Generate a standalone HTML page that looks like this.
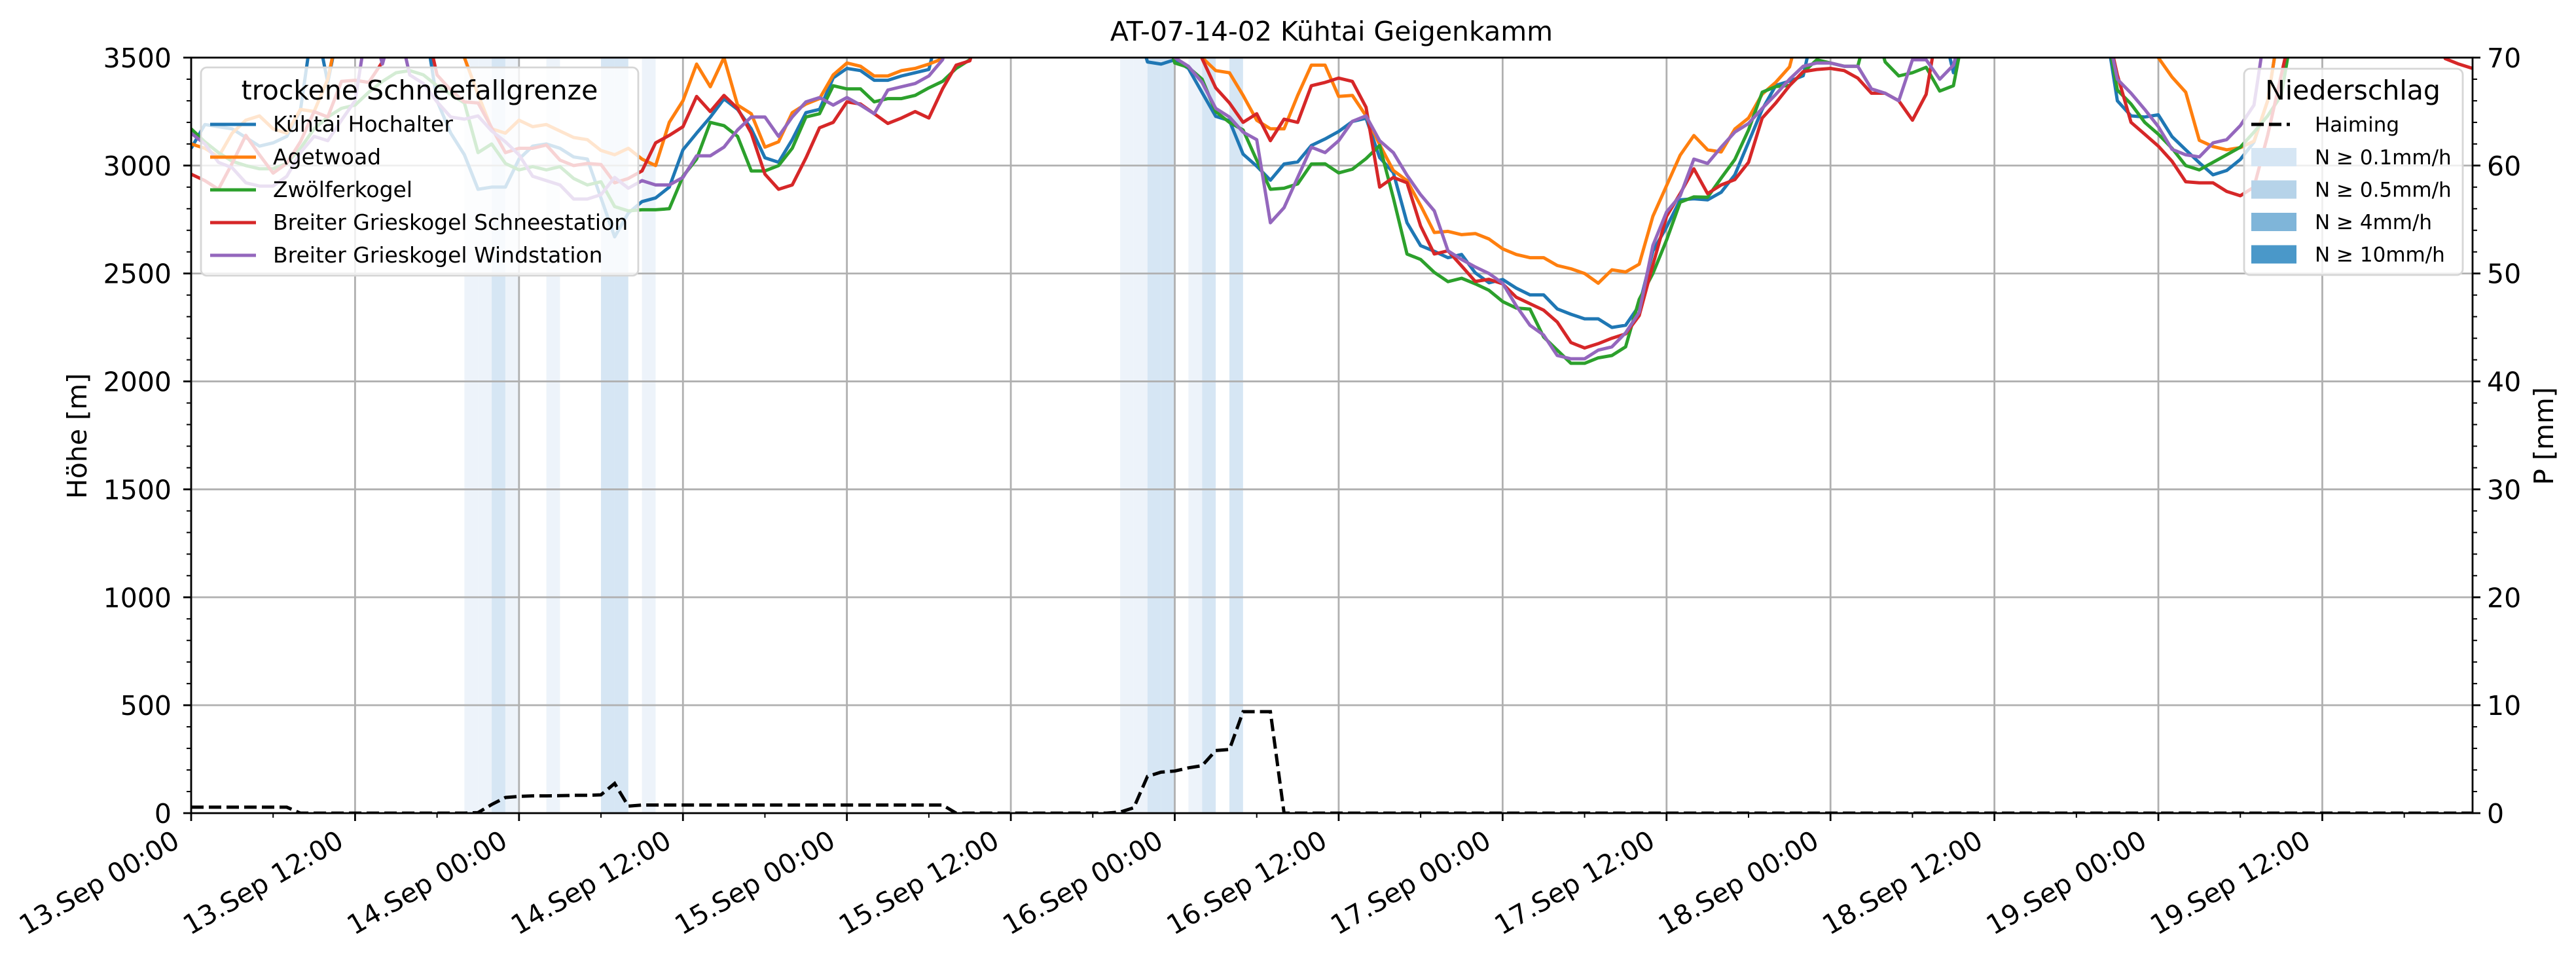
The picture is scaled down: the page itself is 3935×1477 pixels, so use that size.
<!DOCTYPE html>
<html><head><meta charset="utf-8">
<style>
html,body{margin:0;padding:0;background:#fff;}
svg{display:block;font-family:"DejaVu Sans","Liberation Sans",sans-serif;}
</style></head>
<body>
<svg id="chart" xmlns="http://www.w3.org/2000/svg" width="3935" height="1477" viewBox="0 0 3935 1477">
<rect x="0" y="0" width="3935" height="1477" fill="#fff"/>
<text x="2034" y="62" font-size="41" text-anchor="middle">AT-07-14-02 Kühtai Geigenkamm</text>
<defs><clipPath id="plotclip"><rect x="292" y="88" width="3485" height="1154"/></clipPath></defs>
<g id="bands" clip-path="url(#plotclip)"></g>
<g id="grid"></g>
<g id="series" clip-path="url(#plotclip)"></g>
<g id="axes"></g>
<g id="legends"></g>
</svg>
<script>
// ---- data ----
const hours = Array.from({length:168},(_,i)=>i);
const xTickLabels = ["13.Sep 00:00","13.Sep 12:00","14.Sep 00:00","14.Sep 12:00","15.Sep 00:00","15.Sep 12:00","16.Sep 00:00","16.Sep 12:00","17.Sep 00:00","17.Sep 12:00","18.Sep 00:00","18.Sep 12:00","19.Sep 00:00","19.Sep 12:00"];
const yTicksLeft = [0,500,1000,1500,2000,2500,3000,3500];
const yTicksRight = [0,10,20,30,40,50,60,70];
const seriesNames = ["Kühtai Hochalter","Agetwoad","Zwölferkogel","Breiter Grieskogel Schneestation","Breiter Grieskogel Windstation"];
const kuehtai = [3080,3190,3180,3170,3130,3090,3105,3135,3255,3700,
3385,3700,3700,3700,3700,3700,3700,3700,3300,3150,
3050,2890,2900,2900,3030,3090,3100,3080,3040,3030,
2850,2670,2780,2833,2850,2900,3073,3150,3224,3309,
3260,3170,3036,3015,3120,3245,3260,3406,3450,3440,
3395,3395,3415,3430,3445,3700,3700,3700,3700,3700,
3700,3700,3700,3700,3700,3700,3700,3700,3700,3700,
3480,3470,3490,3450,3338,3228,3208,3053,2997,2932,
3007,3017,3093,3123,3158,3204,3219,3037,2967,2735,
2629,2603,2573,2588,2503,2457,2472,2432,2401,2401,
2336,2311,2290,2290,2250,2260,2351,2604,2715,2841,
2846,2841,2876,2957,3108,3260,3371,3391,3416,3700,
3700,3700,3700,3700,3700,3700,3700,3700,3700,3430,
3700,3700,3700,3700,3700,3700,3700,3700,3700,3700,
3700,3300,3230,3225,3235,3134,3073,3013,2957,2977,
3028,3109,3300,3700,3700,3700,3700,3700,3700,3700,
3700,3700,3700,3700,3700,3700,3700,3700];
const agetwoad = [3100,3080,3040,3150,3210,3230,3170,3150,3260,3250,
3400,3700,3700,3700,3700,3700,3700,3700,3700,3700,
3500,3330,3170,3150,3210,3180,3190,3160,3130,3120,
3070,3050,3080,3030,3000,3200,3300,3470,3365,3500,
3280,3240,3085,3110,3245,3285,3310,3420,3475,3460,
3415,3415,3440,3450,3470,3495,3700,3700,3700,3700,
3700,3700,3700,3700,3700,3700,3700,3700,3700,3700,
3700,3700,3700,3700,3500,3440,3430,3325,3210,3170,
3170,3325,3465,3465,3320,3325,3230,3097,2977,2930,
2815,2690,2695,2680,2685,2660,2614,2588,2573,2573,
2537,2522,2500,2455,2517,2507,2543,2765,2907,3048,
3139,3073,3063,3169,3220,3331,3386,3457,3700,3700,
3700,3700,3700,3700,3700,3700,3700,3700,3700,3700,
3700,3700,3700,3700,3700,3700,3700,3700,3700,3700,
3700,3700,3700,3700,3500,3410,3340,3117,3088,3073,
3083,3113,3300,3700,3700,3700,3700,3700,3700,3700,
3700,3700,3700,3700,3700,3700,3700,3700];
const zwoelfer = [3170,3110,3060,3020,3000,2985,2985,3010,3080,3170,
3225,3265,3280,3340,3390,3430,3440,3420,3370,3330,
3290,3060,3100,3010,2980,2995,2980,2995,2940,2910,
2925,2810,2790,2795,2795,2800,2950,3030,3200,3185,
3135,2975,2975,3000,3080,3225,3240,3370,3355,3355,
3295,3310,3310,3325,3360,3390,3450,3490,3700,3700,
3700,3700,3700,3700,3700,3700,3700,3700,3700,3700,
3700,3700,3475,3455,3400,3250,3200,3165,3025,2890,
2895,2915,3007,3008,2966,2983,3032,3093,2850,2590,
2565,2505,2462,2478,2452,2422,2370,2340,2335,2206,
2145,2084,2084,2109,2120,2160,2380,2500,2655,2830,
2855,2853,2942,3028,3165,3340,3366,3371,3432,3490,
3475,3460,3460,3700,3480,3415,3430,3455,3345,3370,
3700,3700,3700,3700,3700,3700,3700,3700,3700,3700,
3700,3350,3285,3200,3145,3080,3000,2980,3015,3050,
3085,3155,3230,3325,3700,3700,3700,3700,3700,3700,
3700,3700,3700,3700,3700,3700,3700,3700];
const schneestation = [2960,2930,2890,3010,3140,3050,2965,3010,3110,3250,
3225,3390,3395,3385,3480,3700,3700,3700,3420,3350,
3295,3290,3175,3060,3080,3080,3095,3025,3000,3010,
3005,2920,2940,2975,3105,3140,3180,3320,3250,3325,
3265,3150,2960,2890,2910,3035,3175,3200,3295,3285,
3240,3195,3220,3250,3220,3355,3465,3485,3700,3700,
3700,3700,3700,3700,3700,3700,3700,3700,3700,3700,
3700,3700,3700,3700,3495,3360,3290,3200,3240,3115,
3215,3200,3370,3385,3405,3390,3270,2900,2945,2920,
2720,2590,2605,2535,2463,2473,2452,2390,2360,2330,
2275,2180,2155,2175,2200,2220,2305,2540,2765,2870,
2985,2870,2910,2935,3015,3220,3290,3370,3435,3445,
3450,3440,3405,3335,3335,3300,3210,3330,3700,3700,
3700,3700,3700,3700,3700,3700,3700,3700,3700,3700,
3700,3420,3200,3145,3090,3020,2925,2920,2920,2880,
2860,2900,3140,3420,3700,3700,3700,3700,3700,3700,
3700,3700,3700,3700,3700,3495,3470,3450];
const windstation = [3150,3100,3015,2990,2920,2905,2905,2950,3060,3135,
3115,3210,3300,3700,3470,3700,3420,3380,3295,3225,
3215,3230,3160,3110,3050,2950,2930,2910,2845,2845,
2865,2945,2895,2930,2910,2910,2945,3045,3045,3085,
3165,3225,3225,3135,3225,3295,3315,3280,3315,3280,
3240,3350,3365,3380,3415,3490,3700,3700,3700,3700,
3700,3700,3700,3700,3700,3700,3700,3700,3700,3700,
3700,3700,3500,3460,3385,3265,3225,3155,3120,2735,
2805,2945,3085,3060,3115,3205,3230,3115,3060,2955,
2865,2790,2605,2565,2530,2500,2455,2350,2260,2215,
2120,2105,2105,2145,2160,2225,2320,2630,2785,2860,
3030,3010,3085,3155,3195,3265,3330,3400,3460,3475,
3475,3460,3460,3355,3335,3300,3490,3490,3400,3465,
3700,3700,3700,3700,3700,3700,3700,3700,3700,3700,
3700,3400,3335,3260,3180,3075,3050,3040,3105,3120,
3185,3280,3700,3700,3700,3700,3700,3700,3700,3700,
3700,3700,3700,3700,3700,3700,3700,3700];
const haiming = [0.55,0.55,0.55,0.55,0.55,0.55,0.55,0.55,0,0,
0,0,0,0,0,0,0,0,0,0,
0,0.05,0.8,1.45,1.55,1.6,1.6,1.62,1.65,1.65,
1.7,2.75,0.65,0.75,0.75,0.75,0.75,0.75,0.75,0.75,
0.75,0.75,0.75,0.75,0.75,0.75,0.75,0.75,0.75,0.75,
0.75,0.75,0.75,0.75,0.75,0.75,0,0,0,0,
0,0,0,0,0,0,0,0,0.1,0.5,
3.4,3.8,3.9,4.2,4.4,5.8,5.9,9.4,9.4,9.4,
0,0,0,0,0,0,0,0,0,0,
0,0,0,0,0,0,0,0,0,0,
0,0,0,0,0,0,0,0,0,0,
0,0,0,0,0,0,0,0,0,0,
0,0,0,0,0,0,0,0,0,0,
0,0,0,0,0,0,0,0,0,0,
0,0,0,0,0,0,0,0,0,0,
0,0,0,0,0,0,0,0,0,0,
0,0,0,0,0,0,0,0];
const bandHours = [20,21,22,23,26,30,31,33,68,69,70,71,73,74,76];
const bandLevels = [1,1,2,1,1,2,2,1,1,1,2,2,1,2,2];
const precipLegendLabels = ["N ≥ 0.1mm/h","N ≥ 0.5mm/h","N ≥ 4mm/h","N ≥ 10mm/h"];

// ---- geometry ----
const X0=292, X1=3777, Y0=88, Y1=1242, NH=167;
const xs = h => X0 + (X1-X0)*h/NH;
const ys = v => Y1 - (Y1-Y0)*v/3500;
const yp = p => Y1 - (Y1-Y0)*p/70;
const NS="http://www.w3.org/2000/svg";
function mk(tag, attrs, parent){const e=document.createElementNS(NS,tag);for(const k in attrs)e.setAttribute(k,attrs[k]);parent.appendChild(e);return e;}
const gB=document.getElementById('bands'), gG=document.getElementById('grid'), gS=document.getElementById('series'), gA=document.getElementById('axes'), gL=document.getElementById('legends');

const bandColors={1:"#edf3fa",2:"#d6e6f4",3:"#7fb5d9",4:"#4a98c9"};
bandHours.forEach((h,i)=>{
  const r=mk('rect',{x:xs(h),y:Y0,width:xs(h+1)-xs(h),height:Y1-Y0,fill:bandColors[bandLevels[i]]},gB);
  
  
});

yTicksLeft.forEach(v=>{
  const l=mk('line',{x1:X0,x2:X1,y1:ys(v),y2:ys(v),stroke:"#b0b0b0","stroke-width":2.8},gG);
  
  
});
xTickLabels.forEach((t,i)=>{
  const x=xs(i*12);
  const l=mk('line',{x1:x,x2:x,y1:Y0,y2:Y1,stroke:"#b0b0b0","stroke-width":2.8},gG);
  
  
});

const seriesData=[kuehtai,agetwoad,zwoelfer,schneestation,windstation];
const colors=["#1f77b4","#ff7f0e","#2ca02c","#d62728","#9467bd"];
const seriesKeys=["kuehtai-hochalter","agetwoad","zwoelferkogel","schneestation","windstation"];
seriesData.forEach((d,si)=>{
  const pts=d.map((v,i)=>xs(hours[i]).toFixed(1)+","+ys(v).toFixed(1)).join(" ");
  const p=mk('polyline',{points:pts,fill:"none",stroke:colors[si],"stroke-width":5,"stroke-linejoin":"round"},gS);
  
  
});
{
  const pts=haiming.map((v,i)=>xs(hours[i]).toFixed(1)+","+yp(v).toFixed(1)).join(" ");
  const p=mk('polyline',{points:pts,fill:"none",stroke:"#000","stroke-width":5,"stroke-dasharray":"19,8"},gS);
  
  
}

const fr=mk('rect',{x:X0,y:Y0,width:X1-X0,height:Y1-Y0,fill:"none",stroke:"#000","stroke-width":2.8},gA);



for(let v=0;v<=3500;v+=100){
  const major=v%500===0;
  const t=mk('line',{x1:X0,x2:X0-(major?12:7),y1:ys(v),y2:ys(v),stroke:"#000","stroke-width":major?2.8:2},gA);
  
  
}
yTicksLeft.forEach(v=>{
  const t=mk('text',{x:X0-30,y:ys(v)+15,"font-size":41,"text-anchor":"end"},gA);
  t.textContent=v;
  
  
});
for(let p=0;p<=70;p+=2){
  const major=p%10===0;
  const t=mk('line',{x1:X1,x2:X1+(major?12:7),y1:yp(p),y2:yp(p),stroke:"#000","stroke-width":major?2.8:2},gA);
  
  
}
yTicksRight.forEach(p=>{
  const t=mk('text',{x:X1+22,y:yp(p)+15,"font-size":41,"text-anchor":"start"},gA);
  t.textContent=p;
  
  
});
for(let h=0;h<=NH;h+=6){
  const major=h%12===0;
  const t=mk('line',{x1:xs(h),x2:xs(h),y1:Y1,y2:Y1+(major?12:7),stroke:"#000","stroke-width":major?2.8:2},gA);
  
  
}
xTickLabels.forEach((s,i)=>{
  const x=xs(i*12)-15, y=1292;
  const t=mk('text',{x:x,y:y,"font-size":41,"text-anchor":"end",transform:`rotate(-30 ${x} ${y})`},gA);
  t.textContent=s;
  
  
});
{
  const t=mk('text',{x:132,y:666,"font-size":41,"text-anchor":"middle",transform:"rotate(-90 132 666)"},gA);
  t.textContent="Höhe [m]";
  
  
  const t2=mk('text',{x:3900,y:666,"font-size":41,"text-anchor":"middle",transform:"rotate(-90 3900 666)"},gA);
  t2.textContent="P [mm]";
  
  
}

{
  const g=mk('g',{},gL);
  
  
  mk('rect',{x:307,y:103,width:668,height:318,rx:9,fill:"#fff","fill-opacity":0.8,stroke:"#d6d6d6","stroke-width":2.8},g);
  const tt=mk('text',{x:641,y:152,"font-size":41,"text-anchor":"middle"},g);
  tt.textContent="trockene Schneefallgrenze";
  
  
  seriesNames.forEach((n,i)=>{
    const y=190+i*50;
    const e=mk('g',{},g);
    
    
    mk('line',{x1:321,x2:391,y1:y,y2:y,stroke:colors[i],"stroke-width":5},e);
    const t=mk('text',{x:417,y:y+11,"font-size":33},e);
    t.textContent=n;
  });
}
{
  const g=mk('g',{},gL);
  
  
  mk('rect',{x:3428,y:105,width:334,height:315,rx:9,fill:"#fff","fill-opacity":0.8,stroke:"#d6d6d6","stroke-width":2.8},g);
  const tt=mk('text',{x:3594,y:152,"font-size":41,"text-anchor":"middle"},g);
  tt.textContent="Niederschlag";
  
  
  const e0=mk('g',{},g);
  
  
  mk('line',{x1:3439,x2:3498,y1:190,y2:190,stroke:"#000","stroke-width":5,"stroke-dasharray":"19,8"},e0);
  const t0=mk('text',{x:3536,y:201,"font-size":31},e0);
  t0.textContent="Haiming";
  const patchCols=["#d6e6f4","#b6d3e9","#7fb5d9","#4a98c9"];
  precipLegendLabels.forEach((s,i)=>{
    const y=240+i*49.5;
    const e=mk('g',{},g);
    
    
    mk('rect',{x:3439,y:y-14,width:69,height:28,fill:patchCols[i]},e);
    const t=mk('text',{x:3536,y:y+11,"font-size":31},e);
    t.textContent=s;
  });
}
</script>
</body></html>
